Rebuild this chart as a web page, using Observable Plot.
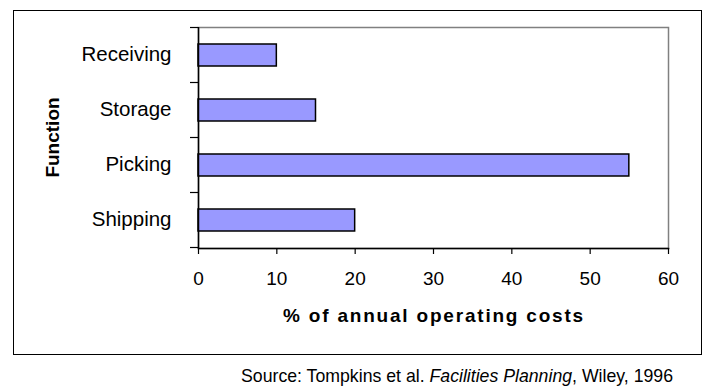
<!DOCTYPE html>
<html><head><meta charset="utf-8">
<script src="https://cdn.jsdelivr.net/npm/d3@7"></script>
<script src="https://cdn.jsdelivr.net/npm/@observablehq/plot@0.6"></script>
<style>html,body{margin:0;padding:0;background:#fff;overflow:hidden} svg{display:block}</style>
</head><body><div id="chart"></div>
<script>
const functions = ["Receiving", "Storage", "Picking", "Shipping"];
const costShare = [10, 15, 55, 20];
const xTicks = [0, 10, 20, 30, 40, 50, 60];
const xTitle = "% of annual operating costs";
const yTitle = "Function";
const sourcePrefix = "Source: Tompkins et al. ";
const sourceTitle = "Facilities Planning";
const sourceSuffix = ", Wiley, 1996";

const data = functions.map((f, i) => ({fn: f, value: costShare[i]}));
const FONT = "Arial, 'Liberation Sans', sans-serif";

const plot = Plot.plot({
  width: 715, height: 389,
  marginLeft: 198, marginRight: 47, marginTop: 27, marginBottom: 141,
  style: {fontFamily: FONT, fontSize: "19px", color: "#000", background: "#fff"},
  x: {domain: [0, 60], ticks: xTicks, label: null},
  y: {domain: functions, paddingInner: 0.6, paddingOuter: 0.3, label: null},
  marks: [
    Plot.frame({stroke: "#808080", strokeWidth: 1.5}),
    Plot.barX(data, {x: "value", y: "fn", fill: "#9999ff", stroke: "#000", strokeWidth: 1.5}),
    Plot.axisX({ticks: xTicks, tickSize: 6, tickPadding: 17, stroke: "#000", strokeWidth: 1.2, label: null, fontSize: 19}),
    Plot.axisY({tickSize: 0, tickPadding: 27, label: null, fontSize: 20.5, dy: -1}),
    Plot.ruleX([0], {stroke: "#000", strokeWidth: 1.5}),
    Plot.frame({anchor: "bottom", stroke: "#000", strokeWidth: 1.5})
  ]
});
document.getElementById("chart").appendChild(plot);

const svg = d3.select(plot);
const xs = plot.scale("x"), ys = plot.scale("y");
const x0 = xs.apply(0);
const yTop = ys.range[0], yBot = ys.range[1];
const gap = ys.step - ys.bandwidth;
const bounds = functions.map(f => ys.apply(f) - gap / 2).concat([ys.apply(functions[functions.length - 1]) + ys.bandwidth + gap / 2]);

// category boundary ticks on the y axis
svg.append("g").attr("stroke", "#000").attr("stroke-width", 1.2)
  .selectAll("line").data(bounds).join("line")
  .attr("x1", x0 - 8).attr("x2", x0).attr("y1", d => d).attr("y2", d => d);

// outer border
svg.insert("rect", ":first-child").attr("x", 13.5).attr("y", 10.5).attr("width", 688).attr("height", 344)
  .attr("fill", "#fff").attr("stroke", "#000").attr("stroke-width", 1);

// x title
const xMid = (xs.range[0] + xs.range[1]) / 2;
svg.append("text").attr("x", xMid + 1).attr("y", 322).attr("text-anchor", "middle")
  .attr("font-family", FONT).attr("font-weight", "bold").attr("font-size", 19)
  .attr("letter-spacing", "1.8px").text(xTitle);

// y title
const yMid = (yTop + yBot) / 2;
svg.append("text").attr("transform", `translate(59,${yMid}) rotate(-90)`).attr("text-anchor", "middle")
  .attr("font-family", FONT).attr("font-weight", "bold").attr("font-size", 19).text(yTitle);

// source caption
const cap = svg.append("text").attr("x", 673).attr("y", 382).attr("text-anchor", "end")
  .attr("font-family", FONT).attr("font-size", 17.7);
cap.append("tspan").text(sourcePrefix);
cap.append("tspan").attr("font-style", "italic").text(sourceTitle);
cap.append("tspan").text(sourceSuffix);
</script>
</body></html>
